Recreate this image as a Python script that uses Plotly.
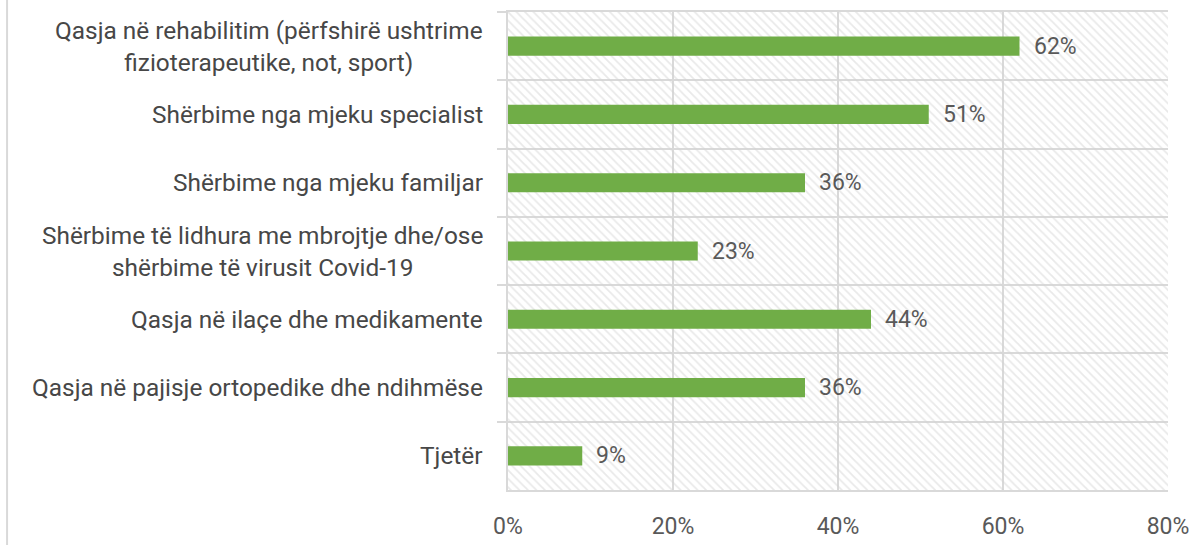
import plotly.graph_objects as go

categories = [
    "Qasja në rehabilitim (përfshirë ushtrime<br>fizioterapeutike, not, sport)",
    "Shërbime nga mjeku specialist",
    "Shërbime nga mjeku familjar",
    "Shërbime të lidhura me mbrojtje dhe/ose<br>shërbime të virusit Covid-19",
    "Qasja në ilaçe dhe medikamente",
    "Qasja në pajisje ortopedike dhe ndihmëse",
    "Tjetër",
]
values = [62, 51, 36, 23, 44, 36, 9]
x_ticks = [0, 20, 40, 60, 80]
x_ticktext = ["0%", "20%", "40%", "60%", "80%"]
x_max = 80

FONT = "Roboto"
GRID = "#D9D9D9"

fig = go.Figure()

# hatched background
fig.add_trace(go.Bar(
    y=categories, x=[x_max] * len(categories), orientation="h", width=1,
    marker=dict(color="rgba(0,0,0,0)", line=dict(width=0),
                pattern=dict(shape="\\", fgcolor="#D4D4D4", bgcolor="rgba(0,0,0,0)",
                             size=6, solidity=0.3)),
    hoverinfo="skip", showlegend=False,
))

fig.add_trace(go.Bar(
    y=categories, x=values, orientation="h", width=0.28,
    marker=dict(color="#70AD47", line=dict(width=0)),
    showlegend=False,
))

for c, v in zip(categories, values):
    fig.add_annotation(x=v, y=c, xref="x", yref="y", text=f"{v}%", showarrow=False,
                       xanchor="left", xshift=12,
                       font=dict(family=FONT, size=23, color="#595959"))
    fig.add_annotation(x=0, y=c, xref="paper", yref="y", text=c, showarrow=False,
                       xanchor="right", xshift=-23, align="center",
                       font=dict(family=FONT, size=24.4, color="#474747"))

fig.add_shape(type="line", xref="paper", yref="paper",
              x0=-0.759, x1=-0.759, y0=-0.2, y1=1.1,
              line=dict(color=GRID, width=2))

fig.update_layout(
    width=1198, height=545,
    margin=dict(l=508, r=30, t=12, b=55),
    barmode="overlay",
    plot_bgcolor="white", paper_bgcolor="white",
    font=dict(family=FONT, color="#595959"),
    xaxis=dict(range=[0, x_max], tickvals=x_ticks, ticktext=x_ticktext,
               showgrid=True, gridcolor=GRID, gridwidth=1.5,
               zeroline=False, showline=True, mirror=True, linecolor=GRID, linewidth=1.5,
               tickfont=dict(size=23, color="#595959"),
               ticklabelstandoff=15, automargin=False, fixedrange=True),
    yaxis=dict(type="category", autorange="reversed", tickson="boundaries",
               showgrid=True, gridcolor=GRID, gridwidth=1.5,
               showline=True, linecolor=GRID, linewidth=2,
               ticks="outside", ticklen=9, tickcolor=GRID, tickwidth=1.5,
               showticklabels=False, automargin=False, fixedrange=True),
)

fig.write_html("out.html", config={"displayModeBar": False},
               post_script="document.body.style.margin='0';document.body.style.overflow='hidden';")
